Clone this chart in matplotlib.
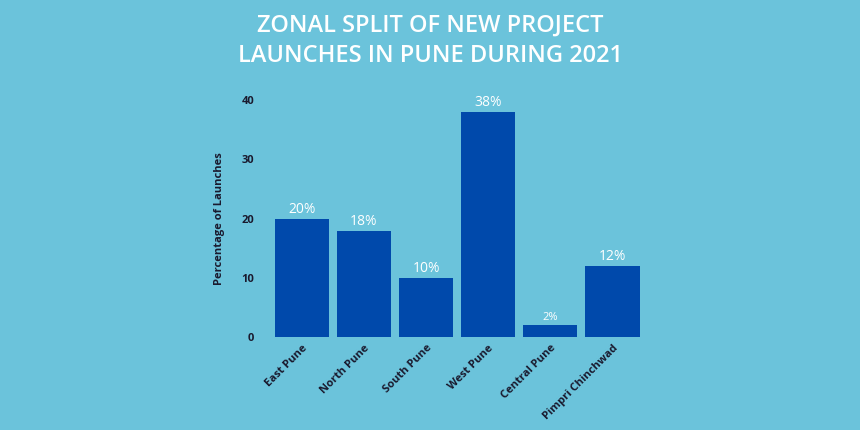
import matplotlib
matplotlib.use("Agg")
import matplotlib.pyplot as plt

categories = ["East Pune", "North Pune", "South Pune", "West Pune", "Central Pune", "Pimpri Chinchwad"]
values = [20, 18, 10, 38, 2, 12]
yticks = [0, 10, 20, 30, 40]

bg = "#6BC3DB"
fig = plt.figure(figsize=(8.6, 4.3), dpi=100, facecolor=bg)
ax = fig.add_axes([0.315, 0.216, 0.433, 0.551], facecolor=bg)
x = range(len(categories))
bars = ax.bar(x, values, width=0.88, color="#0049AB")
for xi, v in zip(x, values):
    ax.text(xi, v + 0.3, f"{v}%", ha="center", va="bottom", color="white",
            fontsize=10 if v > 5 else 8, family="Open Sans")
ax.set_xlim(-0.5, 5.5)
ax.set_ylim(0, 40)
ax.set_yticks(yticks)
ax.set_yticklabels([str(t) for t in yticks], fontsize=8, fontweight="bold", color="#1a1a2e", family="Open Sans")
ax.set_xticks(list(x))
ax.set_xticklabels(categories, rotation=45, ha="right", rotation_mode="anchor",
                   fontsize=8, fontweight="bold", color="#1a1a2e", family="Open Sans")
ax.tick_params(length=0, pad=4)
ax.tick_params(axis="y", pad=12)
for s in ax.spines.values():
    s.set_visible(False)
ax.set_ylabel("Percentage of Launches", fontsize=8, fontweight="bold", color="#1a1a2e",
              family="Open Sans", labelpad=12)
fig.text(0.5, 0.905, "ZONAL SPLIT OF NEW PROJECT\nLAUNCHES IN PUNE DURING 2021", ha="center", va="center",
         color="white", fontsize=17, fontweight="semibold", family="Open Sans", linespacing=1.4)
fig.savefig("out.png", dpi=100, facecolor=bg)
